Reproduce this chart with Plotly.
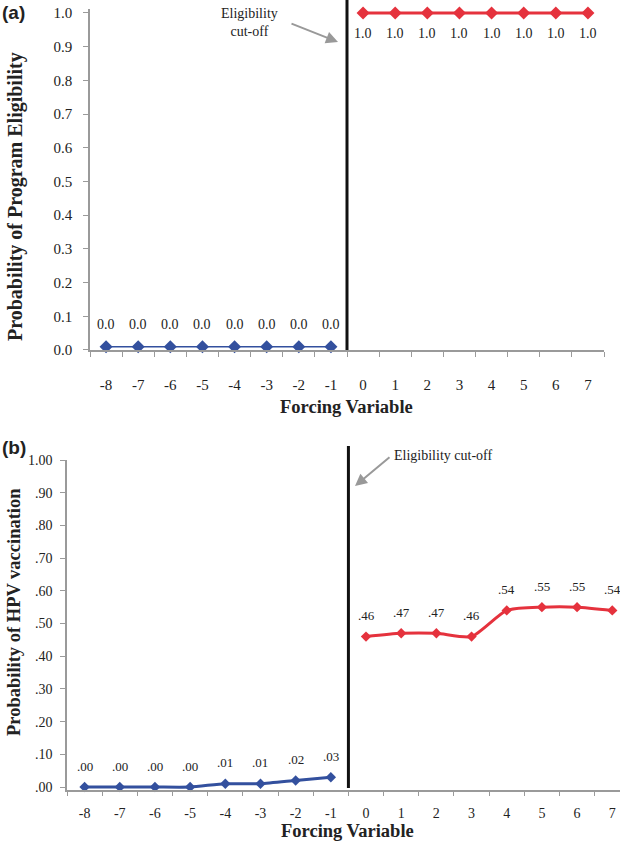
import plotly.graph_objects as go

# ---------------- data ----------------
x_left = [-8, -7, -6, -5, -4, -3, -2, -1]
x_right = [0, 1, 2, 3, 4, 5, 6, 7]
x_all = x_left + x_right
x_ticktext = [str(v) for v in x_all]

a_left = [0.01, 0.01, 0.01, 0.01, 0.01, 0.01, 0.01, 0.01]
a_left_labels = ["0.0", "0.0", "0.0", "0.0", "0.0", "0.0", "0.0", "0.0"]
a_right = [1.0, 1.0, 1.0, 1.0, 1.0, 1.0, 1.0, 1.0]
a_right_labels = ["1.0", "1.0", "1.0", "1.0", "1.0", "1.0", "1.0", "1.0"]

b_left = [0.00, 0.00, 0.00, 0.00, 0.01, 0.01, 0.02, 0.03]
b_left_labels = [".00", ".00", ".00", ".00", ".01", ".01", ".02", ".03"]
b_right = [0.46, 0.47, 0.47, 0.46, 0.54, 0.55, 0.55, 0.54]
b_right_labels = [".46", ".47", ".47", ".46", ".54", ".55", ".55", ".54"]

a_yticks = [0.0, 0.1, 0.2, 0.3, 0.4, 0.5, 0.6, 0.7, 0.8, 0.9, 1.0]
a_yticktext = ["0.0", "0.1", "0.2", "0.3", "0.4", "0.5", "0.6", "0.7", "0.8", "0.9", "1.0"]
b_yticks = [0.0, 0.1, 0.2, 0.3, 0.4, 0.5, 0.6, 0.7, 0.8, 0.9, 1.0]
b_yticktext = [".00", ".10", ".20", ".30", ".40", ".50", ".60", ".70", ".80", ".90", "1.00"]

cutoff = -0.5

# ---------------- style ----------------
W, H = 620, 846
BLUE = "#33509E"
RED = "#E5323D"
SERIF = "Liberation Serif"
TXT = "#222222"
AX = "#9a9a9a"

def px_x(p):
    return p / W

def px_y(p):
    return 1 - p / H

fig = go.Figure()

# panel (a)
fig.add_trace(go.Scatter(x=x_left, y=a_left, mode="lines+markers", xaxis="x", yaxis="y",
                         line=dict(color=BLUE, width=1.5),
                         marker=dict(symbol="diamond", size=10, color=BLUE),
                         cliponaxis=False, showlegend=False))
fig.add_trace(go.Scatter(x=x_right, y=a_right, mode="lines+markers", xaxis="x", yaxis="y",
                         line=dict(color=RED, width=3),
                         marker=dict(symbol="diamond", size=10, color=RED),
                         cliponaxis=False, showlegend=False))
# panel (b)
fig.add_trace(go.Scatter(x=x_left, y=b_left, mode="lines+markers", xaxis="x2", yaxis="y2",
                         line=dict(color=BLUE, width=3, shape="spline", smoothing=0.6),
                         marker=dict(symbol="diamond", size=8, color=BLUE),
                         cliponaxis=False, showlegend=False))
fig.add_trace(go.Scatter(x=x_right, y=b_right, mode="lines+markers", xaxis="x2", yaxis="y2",
                         line=dict(color=RED, width=3, shape="spline", smoothing=0.6),
                         marker=dict(symbol="diamond", size=8, color=RED),
                         cliponaxis=False, showlegend=False))

annotations = []
lab_font_a = dict(family=SERIF, size=14, color=TXT)
lab_font_b = dict(family=SERIF, size=13, color=TXT)
for xv, yv, t in zip(x_left, a_left, a_left_labels):
    annotations.append(dict(x=xv, y=yv, xref="x", yref="y", text=t, showarrow=False,
                            yshift=22, font=lab_font_a))
for xv, yv, t in zip(x_right, a_right, a_right_labels):
    annotations.append(dict(x=xv, y=yv, xref="x", yref="y", text=t, showarrow=False,
                            yshift=-21, font=lab_font_a))
for xv, yv, t in zip(x_left, b_left, b_left_labels):
    annotations.append(dict(x=xv, y=yv, xref="x2", yref="y2", text=t, showarrow=False,
                            yshift=21, font=lab_font_b))
for xv, yv, t in zip(x_right, b_right, b_right_labels):
    annotations.append(dict(x=xv, y=yv, xref="x2", yref="y2", text=t, showarrow=False,
                            yshift=21, font=lab_font_b))

# panel letters
annotations.append(dict(x=0, y=px_y(12), xref="paper", yref="paper", text="<b>(a)</b>",
                        showarrow=False, xanchor="left", yanchor="middle",
                        font=dict(family="Liberation Sans", size=19, color=TXT)))
annotations.append(dict(x=0, y=px_y(447), xref="paper", yref="paper", text="<b>(b)</b>",
                        showarrow=False, xanchor="left", yanchor="middle",
                        font=dict(family="Liberation Sans", size=19, color=TXT)))

# axis titles
title_font = dict(family=SERIF, size=18.5, color=TXT)
annotations.append(dict(x=px_x(16), y=px_y(197), xref="paper", yref="paper",
                        xanchor="center", yanchor="middle",
                        text="<b>Probability of Program Eligibility</b>", textangle=-90,
                        showarrow=False, font=dict(family=SERIF, size=20, color=TXT)))
annotations.append(dict(x=px_x(346), y=px_y(407), xref="paper", yref="paper",
                        xanchor="center", yanchor="middle",
                        text="<b>Forcing Variable</b>", showarrow=False, font=title_font))
annotations.append(dict(x=px_x(14), y=px_y(612), xref="paper", yref="paper",
                        xanchor="center", yanchor="middle",
                        text="<b>Probability of HPV vaccination</b>", textangle=-90,
                        showarrow=False, font=dict(family=SERIF, size=18.5, color=TXT)))
annotations.append(dict(x=px_x(347), y=px_y(831), xref="paper", yref="paper",
                        xanchor="center", yanchor="middle",
                        text="<b>Forcing Variable</b>", showarrow=False, font=title_font))

# eligibility cut-off notes
note_font = dict(family=SERIF, size=14, color=TXT)
annotations.append(dict(x=px_x(250), y=px_y(22), xref="paper", yref="paper",
                        xanchor="center", yanchor="middle",
                        text="Eligibility<br>cut-off", showarrow=False, align="center",
                        font=note_font))
annotations.append(dict(x=px_x(338), y=px_y(42), xref="paper", yref="paper", text="",
                        showarrow=True, ax=-48, ay=-19, arrowhead=2, arrowsize=1.2,
                        arrowwidth=2, arrowcolor="#999999"))
annotations.append(dict(x=px_x(392), y=px_y(455), xref="paper", yref="paper",
                        text="Eligibility cut-off", showarrow=False, xanchor="left",
                        yanchor="middle", font=note_font))
annotations.append(dict(x=px_x(355), y=px_y(486), xref="paper", yref="paper", text="",
                        showarrow=True, ax=36, ay=-30, arrowhead=2, arrowsize=1.2,
                        arrowwidth=2, arrowcolor="#999999"))

shapes = [
    dict(type="line", xref="x", yref="paper", x0=cutoff, x1=cutoff,
         y0=px_y(350), y1=1.0, line=dict(color="#111111", width=3)),
    dict(type="line", xref="x2", yref="paper", x0=cutoff, x1=cutoff,
         y0=px_y(788), y1=px_y(446), line=dict(color="#111111", width=3)),
]

tick_font_a = dict(family=SERIF, size=15, color=TXT)
tick_font_b = dict(family=SERIF, size=14, color=TXT)
bounds = [v - 0.5 for v in x_all] + [x_all[-1] + 0.5]

# (a): 0 -> 350 px, 1 -> 13 px; small headroom so the top line is not clipped
a_top_px = 13 - 0.012 * 337
# (b): 0 -> 787 px, 1 -> 460 px; small footroom below zero
b_bot_px = 787 + 0.008 * 327

fig.update_layout(
    width=W, height=H, margin=dict(l=0, r=0, t=0, b=0, autoexpand=False),
    paper_bgcolor="white", plot_bgcolor="white",
    annotations=annotations, shapes=shapes,
    xaxis=dict(domain=[px_x(90), px_x(604)], range=[-8.5, 7.5], anchor="y",
               automargin=False,
               tickmode="array", tickvals=x_all, ticktext=x_ticktext, ticks="",
               ticklabelstandoff=20, tickfont=tick_font_a,
               showline=True, linecolor=AX, linewidth=1.5, showgrid=False, zeroline=False,
               minor=dict(tickmode="array", tickvals=bounds, ticks="outside", ticklen=5,
                          tickcolor=AX, tickwidth=1, showgrid=False)),
    yaxis=dict(domain=[px_y(350), px_y(a_top_px)], range=[0, 1.012], anchor="x",
               automargin=False,
               tickmode="array", tickvals=a_yticks, ticktext=a_yticktext,
               ticks="outside", ticklen=5, tickcolor=AX, ticklabelstandoff=8,
               tickfont=tick_font_a, showline=True, linecolor=AX, linewidth=1.5,
               showgrid=False, zeroline=False),
    xaxis2=dict(domain=[px_x(67), 1.0], range=[-8.5, 7.22], anchor="y2",
                automargin=False,
                tickmode="array", tickvals=x_all, ticktext=x_ticktext, ticks="",
                ticklabelstandoff=10, tickfont=tick_font_b,
                showline=True, linecolor=AX, linewidth=1.5, showgrid=False, zeroline=False,
                minor=dict(tickmode="array", tickvals=bounds, ticks="outside", ticklen=5,
                           tickcolor=AX, tickwidth=1, showgrid=False)),
    yaxis2=dict(domain=[px_y(b_bot_px), px_y(460)], range=[-0.008, 1], anchor="x2",
                automargin=False,
                tickmode="array", tickvals=b_yticks, ticktext=b_yticktext,
                ticks="outside", ticklen=5, tickcolor=AX, ticklabelstandoff=5,
                tickfont=tick_font_b, showline=True, linecolor=AX, linewidth=1.5,
                showgrid=False, zeroline=False),
)

fig.write_html("out.html", config={"displayModeBar": False},
               post_script="document.body.style.margin='0';document.body.style.padding='0';")
